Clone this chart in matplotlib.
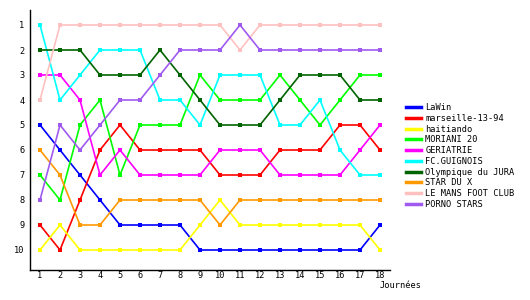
import numpy as np
import matplotlib
matplotlib.use("Agg")
import matplotlib.pyplot as plt

journees = list(range(1, 19))

teams = ["LaWin", "marseille-13-94", "haitiando", "MORIANI 20", "GERIATRIE",
         "FC.GUIGNOIS", "Olympique du JURA", "STAR DU X", "LE MANS FOOT CLUB",
         "PORNO STARS"]
colors = ["#0000ff", "#ff0000", "#ffff00", "#00ff00", "#ff00ff",
          "#00ffff", "#006400", "#ff9900", "#ffc0c0", "#a05af0"]

lawin      = [5, 6, 7, 8, 9, 9, 9, 9, 10, 10, 10, 10, 10, 10, 10, 10, 10, 9]
marseille  = [9, 10, 8, 6, 5, 6, 6, 6, 6, 7, 7, 7, 6, 6, 6, 5, 5, 6]
haitiando  = [10, 9, 10, 10, 10, 10, 10, 10, 9, 8, 9, 9, 9, 9, 9, 9, 9, 10]
moriani    = [7, 8, 5, 4, 7, 5, 5, 5, 3, 4, 4, 4, 3, 4, 5, 4, 3, 3]
geriatrie  = [3, 3, 4, 7, 6, 7, 7, 7, 7, 6, 6, 6, 7, 7, 7, 7, 6, 5]
guignois   = [1, 4, 3, 2, 2, 2, 4, 4, 5, 3, 3, 3, 5, 5, 4, 6, 7, 7]
jura       = [2, 2, 2, 3, 3, 3, 2, 3, 4, 5, 5, 5, 4, 3, 3, 3, 4, 4]
star_du_x  = [6, 7, 9, 9, 8, 8, 8, 8, 8, 9, 8, 8, 8, 8, 8, 8, 8, 8]
le_mans    = [4, 1, 1, 1, 1, 1, 1, 1, 1, 1, 2, 1, 1, 1, 1, 1, 1, 1]
porno      = [8, 5, 6, 5, 4, 4, 3, 2, 2, 2, 1, 2, 2, 2, 2, 2, 2, 2]

ranks = [lawin, marseille, haitiando, moriani, geriatrie,
         guignois, jura, star_du_x, le_mans, porno]

plt.rcParams['font.family'] = ['DejaVu Sans Mono']

fig = plt.figure(figsize=(5.3, 3.0), dpi=100)
ax = fig.add_axes([30/530, 30/300, 360/530, 260/300])

for name, col, r in zip(teams, colors, ranks):
    ax.plot(journees, r, '-s', color=col, lw=1.2, ms=2.5, mew=0, label=name)

ax.set_xlim(0.5, 18.5)
ax.set_ylim(10.8, 0.4)
ax.set_xticks(journees)
ax.set_yticks(range(1, 11))
ax.tick_params(labelsize=6.2, length=0)
ax.tick_params(axis='x', pad=1)
ax.tick_params(axis='y', pad=4)
for s in ['top', 'right']:
    ax.spines[s].set_visible(False)
ax.spines['left'].set_linewidth(1)
ax.spines['bottom'].set_linewidth(1)

fig.text(380/530, 1 - 285/300, "Journées", fontsize=6.2, ha='left', va='center')

leg = fig.legend(loc='upper left', bbox_to_anchor=(402/530, 1 - 99/300),
                 frameon=False, fontsize=6.2, handlelength=1.7,
                 handletextpad=0.5, labelspacing=0.2, borderpad=0)
for h in leg.get_lines():
    h.set_linewidth(2.5)
    h.set_marker('')

fig.savefig("out.png", dpi=100)
